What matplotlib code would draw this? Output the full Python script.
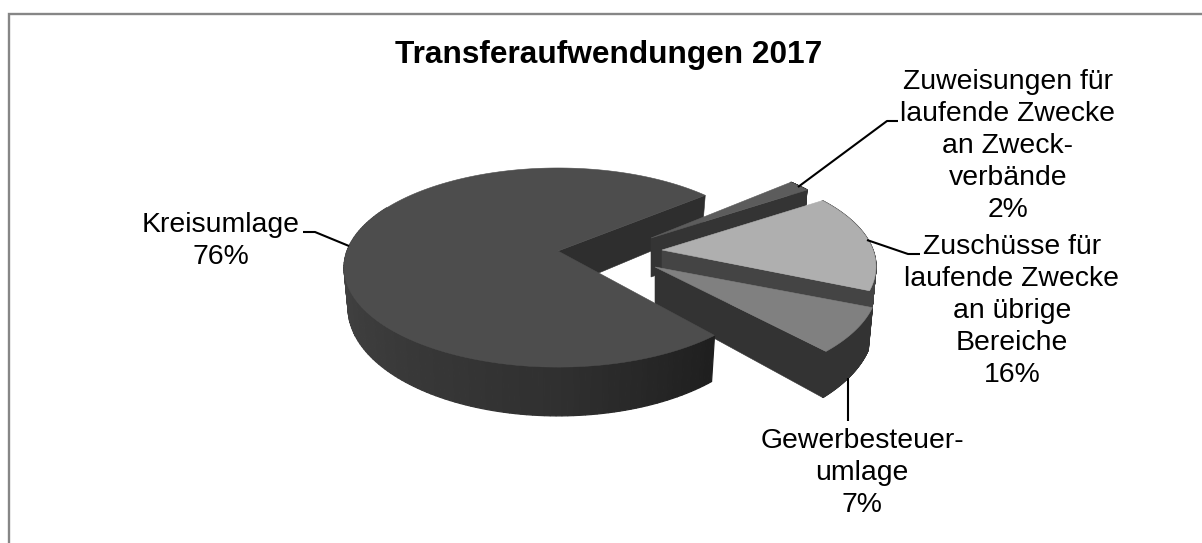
import numpy as np
import matplotlib
matplotlib.use("Agg")
import matplotlib.pyplot as plt
from matplotlib.patches import Polygon

plt.rcParams['font.family'] = ['Liberation Sans', 'DejaVu Sans']

# Shares as printed on the labels, in clockwise order
categories = ["Kreisumlage", "Zuweisungen für\nlaufende Zwecke\nan Zweck-\nverbände",
              "Zuschüsse für\nlaufende Zwecke\nan übrige\nBereiche", "Gewerbesteuer-\numlage"]
shares = [76, 2, 16, 7]
title = "Transferaufwendungen 2017"

W, H = 1202, 543
START = 41.0                  # angle of the first slice edge, degrees ccw from east
KP = 0.166                    # foreshortening of the disc towards the back

# Per-slice apex shift (pixels), rotation (degrees), radius factor and fill colours
offsets = [(0, 0), (93, -13), (104, -1), (97, 16)]
rotations = [-1.5, 0.0, 0.0, 1.0]
radii = [1.0, 0.97, 1.0, 1.04]
top_colors = ["#4d4d4d", "#5c5c5c", "#afafaf", "#808080"]
wall_colors = ["#2e2e2e", "#343434", "#444444", "#333333"]


def top_pt(theta, r=1.0):
    u, v = r * np.cos(theta), r * np.sin(theta)
    d = 1 + KP * v
    return 558 + 211 * u / d, 251 - 96.8 * v / d


def bot_pt(theta, r=1.0):
    u, v = r * np.cos(theta), r * np.sin(theta)
    d = 1 + KP * v
    return 558 + 207 * u / d, 290 - 105 * v / d


def shifted(fn, theta, i, r=None):
    x, y = fn(theta, radii[i] if r is None else r)
    return x + offsets[i][0], y + offsets[i][1]


def face(ax, pts, color, z, lw=0.4):
    ax.add_patch(Polygon(pts, closed=True, facecolor=color, edgecolor=color,
                         linewidth=lw, zorder=z))


def rim_color(deg):
    # shading along the rim of the large slice: lighter at the left, darkest at the right
    v = int(np.interp(deg, [170, 270, 312], [0x47, 0x30, 0x1e]))
    return f"#{v:02x}{v:02x}{v:02x}"


fig = plt.figure(figsize=(W / 100, H / 100), dpi=100)
ax = fig.add_axes([0, 0, 1, 1])
ax.set_xlim(0, W)
ax.set_ylim(H, 0)
ax.axis("off")

# Chart frame: only its top and left edges fall inside the canvas
ax.plot([9, 9, W], [H, 14, 14], color="#868686", linewidth=1.7, zorder=0,
        solid_joinstyle="miter", solid_capstyle="butt")

total = sum(shares)
spans = [s / total * 360 for s in shares]

# The large slice runs counter-clockwise from START, the rest clockwise from START
ranges = [(START + rotations[0], START + rotations[0] + spans[0])]
a = START
for i, sp in enumerate(spans[1:], start=1):
    ranges.append((a - sp + rotations[i], a + rotations[i]))
    a -= sp


def draw_wall(i, z):
    lo = np.radians(ranges[i][0])
    face(ax, [shifted(top_pt, 0, i, 0), shifted(top_pt, lo, i),
              shifted(bot_pt, lo, i), shifted(bot_pt, 0, i, 0)], wall_colors[i], z)


def draw_slice(i, z):
    lo, hi = np.radians(ranges[i][0]), np.radians(ranges[i][1])
    th = np.linspace(lo, hi, 200)
    # outer rim as thin strips so the shading can vary along it
    for t0, t1 in zip(th[:-1], th[1:]):
        deg = np.degrees(t0)
        if i == 0 and deg < 150:
            continue
        col = rim_color(deg) if i == 0 else wall_colors[i]
        face(ax, [shifted(top_pt, t0, i), shifted(top_pt, t1, i),
                  shifted(bot_pt, t1, i), shifted(bot_pt, t0, i)], col, z, lw=0.9)
    # top surface
    outline = [shifted(top_pt, 0, i, 0)] + [shifted(top_pt, t, i) for t in th]
    face(ax, outline, top_colors[i], z + 0.2)


draw_wall(0, 1)
for n, i in enumerate([1, 2, 3]):
    draw_slice(i, 2 + n)
    draw_wall(i, 2 + n + 0.1)
draw_slice(0, 6)

# Leader lines
leaders = [([303, 315, 349], [232, 232, 246]),
           ([798, 887, 898], [187, 121, 121]),
           ([867, 908, 920], [240, 254, 254]),
           ([848, 848], [378, 421])]
for xs, ys in leaders:
    ax.plot(xs, ys, color="black", linewidth=1.5, zorder=8, solid_capstyle="butt")

ax.text(609, 55, title, ha="center", va="center", fontsize=22.8, fontweight="bold", zorder=9)
labels = [(221, 241), (1008, 146), (1012, 311), (862, 473)]
for name, share, (x, y) in zip(categories, shares, labels):
    ax.text(x, y, f"{name}\n{share}%", ha="center", va="center", fontsize=20.4,
            linespacing=1.31, zorder=9)

fig.savefig("out.png", dpi=100)
